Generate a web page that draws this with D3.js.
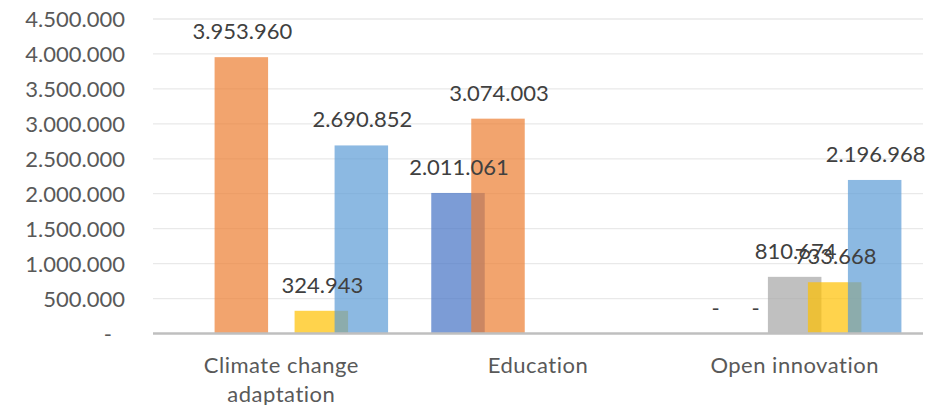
<!DOCTYPE html>
<html>
<head>
<meta charset="utf-8">
<script src="https://cdn.jsdelivr.net/npm/d3@7"></script>
<style>
  html, body { margin: 0; padding: 0; background: #fff; }
  svg { display: block; }
  text { font-family: Lato, "Open Sans", sans-serif; }
</style>
</head>
<body>
<svg id="chart" width="937" height="405"></svg>
<script>
// ---- data ----
const categories = ["Climate change adaptation", "Education", "Open innovation"];
const seriesNames = ["Series 1", "Series 2", "Series 3", "Series 4", "Series 5"];
const series1 = [null, 2011061, 0];
const series2 = [3953960, 3074003, 0];
const series3 = [null, null, 810674];
const series4 = [324943, null, 733668];
const series5 = [2690852, null, 2196968];
const seriesColors = ["#4472C4", "#ED7D31", "#A5A5A5", "#FFC000", "#5B9BD5"];
const yTicks = [0, 500000, 1000000, 1500000, 2000000, 2500000, 3000000, 3500000, 4000000, 4500000];

const allSeries = [series1, series2, series3, series4, series5];

// ---- layout ----
const plot = { left: 153, right: 923, top: 19, bottom: 333.5 };
const fontSize = 22;

const svg = d3.select("#chart");

const locale = d3.formatLocale({ decimal: ",", thousands: ".", grouping: [3], currency: ["", ""] });
const fmt = locale.format(",d");
const labelFmt = v => v === 0 ? "-" : fmt(v);

const x = d3.scaleBand().domain(categories).range([plot.left, plot.right]).paddingInner(0).paddingOuter(0);
const y = d3.scaleLinear().domain([0, 4500000]).range([plot.bottom, plot.top]);

const barW = 53.5;
const groupHalf = 80;
const sx = d3.scalePoint().domain(d3.range(seriesNames.length)).range([-groupHalf, groupHalf]);

// gridlines
svg.append("g").selectAll("line")
  .data(yTicks.filter(t => t > 0))
  .join("line")
  .attr("x1", plot.left).attr("x2", plot.right)
  .attr("y1", d => y(d)).attr("y2", d => y(d))
  .attr("stroke", "#E9E9E9").attr("stroke-width", 1.3);

// y tick labels
svg.append("g").selectAll("text")
  .data(yTicks)
  .join("text")
  .attr("x", d => d === 0 ? 112 : 125)
  .attr("y", d => y(d) + 8)
  .attr("text-anchor", "end")
  .attr("font-size", fontSize)
  .attr("fill", "#595959")
  .text(d => d === 0 ? "-" : fmt(d));

// bars
const barData = [];
allSeries.forEach((vals, si) => {
  vals.forEach((v, ci) => {
    if (v !== null) barData.push({ si, ci, v });
  });
});

svg.append("g").selectAll("rect")
  .data(barData)
  .join("rect")
  .attr("x", d => x(categories[d.ci]) + x.bandwidth() / 2 + sx(d.si) - barW / 2)
  .attr("width", barW)
  .attr("y", d => y(d.v))
  .attr("height", d => y(0) - y(d.v))
  .attr("fill", d => seriesColors[d.si])
  .attr("fill-opacity", 0.7);

// axis line
svg.append("line")
  .attr("x1", plot.left).attr("x2", plot.right)
  .attr("y1", y(0)).attr("y2", y(0))
  .attr("stroke", "#BFBFBF").attr("stroke-width", 2.5);

// data labels
svg.append("g").selectAll("text")
  .data(barData)
  .join("text")
  .attr("x", d => x(categories[d.ci]) + x.bandwidth() / 2 + sx(d.si) + 1)
  .attr("y", d => y(d.v) - 18)
  .attr("text-anchor", "middle")
  .attr("font-size", fontSize)
  .attr("fill", "#404040")
  .text(d => labelFmt(d.v));

// category labels (wrapped)
const catLines = {
  "Climate change adaptation": ["Climate change", "adaptation"],
  "Education": ["Education"],
  "Open innovation": ["Open innovation"]
};
const cg = svg.append("g").selectAll("text")
  .data(categories)
  .join("text")
  .attr("x", d => x(d) + x.bandwidth() / 2)
  .attr("y", 373)
  .attr("text-anchor", "middle")
  .attr("font-size", fontSize)
  .attr("letter-spacing", 0.5)
  .attr("fill", "#595959");
cg.each(function(d) {
  const t = d3.select(this);
  catLines[d].forEach((line, i) => {
    t.append("tspan")
      .attr("x", x(d) + x.bandwidth() / 2)
      .attr("dy", i === 0 ? 0 : 29)
      .text(line);
  });
});
</script>
</body>
</html>
